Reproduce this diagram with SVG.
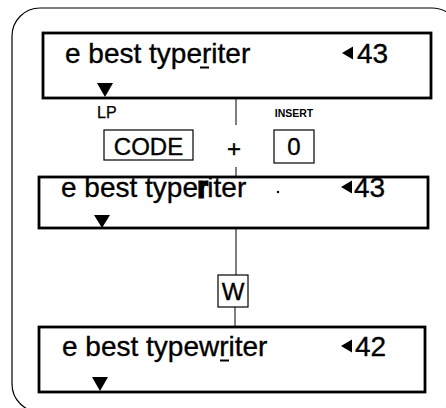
<svg xmlns="http://www.w3.org/2000/svg" width="446" height="408" viewBox="0 0 446 408">
<style>
  .box{fill:#fff;stroke:#000;stroke-width:2.8}
  .key{fill:#fff;stroke:#000;stroke-width:1.2}
  .frame{fill:none;stroke:#000;stroke-width:1.2}
  .t{font-family:"Liberation Sans",Arial,sans-serif;font-size:28px;fill:#000;stroke:#000;stroke-width:0.35}
  .k{font-family:"Liberation Sans",Arial,sans-serif;font-size:24px;fill:#000;stroke:#000;stroke-width:0.35;text-anchor:middle}
  .lp{font-family:"Liberation Sans",Arial,sans-serif;font-size:16px;fill:#000;stroke:#000;stroke-width:0.25}
  .ins{font-family:"Liberation Sans",Arial,sans-serif;font-size:10.5px;font-weight:bold;fill:#000;text-anchor:middle}
  .conn{stroke:#000;stroke-width:1;fill:none}
</style>
<rect class="frame" x="12" y="8" width="448" height="404" rx="28"/>
<g id="connectors">
  <line class="conn" x1="236" y1="98" x2="236" y2="125"/>
  <line class="conn" x1="236" y1="167" x2="236" y2="177"/>
  <line class="conn" x1="236" y1="228" x2="236" y2="275"/>
  <line class="conn" x1="235" y1="307" x2="235" y2="327"/>
</g>
<g id="display1">
  <rect class="box" x="43" y="33" width="388" height="65"/>
  <text class="t" x="65" y="63">e best typeriter</text>
  <line x1="200" y1="67.5" x2="209" y2="67.5" stroke="#000" stroke-width="2"/>
  <polygon points="342,53 353,46.5 353,59.5"/>
  <text class="t" x="357" y="63">43</text>
  <polygon points="97,83 113,83 105,97"/>
</g>
<g id="lp">
  <text class="lp" x="97" y="118">LP</text>
</g>
<g id="code">
  <rect class="key" x="104" y="130" width="89" height="30"/>
  <text class="k" x="148.5" y="155">CODE</text>
</g>
<g id="plus">
  <text class="k" x="234" y="157">+</text>
</g>
<g id="insert">
  <text class="ins" x="294" y="117">INSERT</text>
  <rect class="key" x="274" y="130" width="40" height="33"/>
  <text class="k" x="294" y="155">0</text>
</g>
<g id="display2">
  <rect class="box" x="39" y="177" width="389" height="51"/>
  <text class="t" x="61" y="197">e best type<tspan stroke-width="3">r</tspan>iter</text>
  <circle cx="278" cy="192" r="1.2"/>
  <polygon points="341,187 352,180.5 352,193.5"/>
  <text class="t" x="354" y="197">43</text>
  <polygon points="94,215 110,215 102,228"/>
</g>
<g id="w">
  <rect class="key" x="218" y="275" width="30" height="32"/>
  <text class="k" x="233" y="300">W</text>
</g>
<g id="display3">
  <rect class="box" x="39" y="327" width="386" height="65"/>
  <text class="t" x="62" y="356">e best typewriter</text>
  <line x1="220" y1="360.5" x2="229" y2="360.5" stroke="#000" stroke-width="2"/>
  <polygon points="341,346 352,339.5 352,352.5"/>
  <text class="t" x="355" y="356">42</text>
  <polygon points="92,377 108,377 100,391"/>
</g>
</svg>
